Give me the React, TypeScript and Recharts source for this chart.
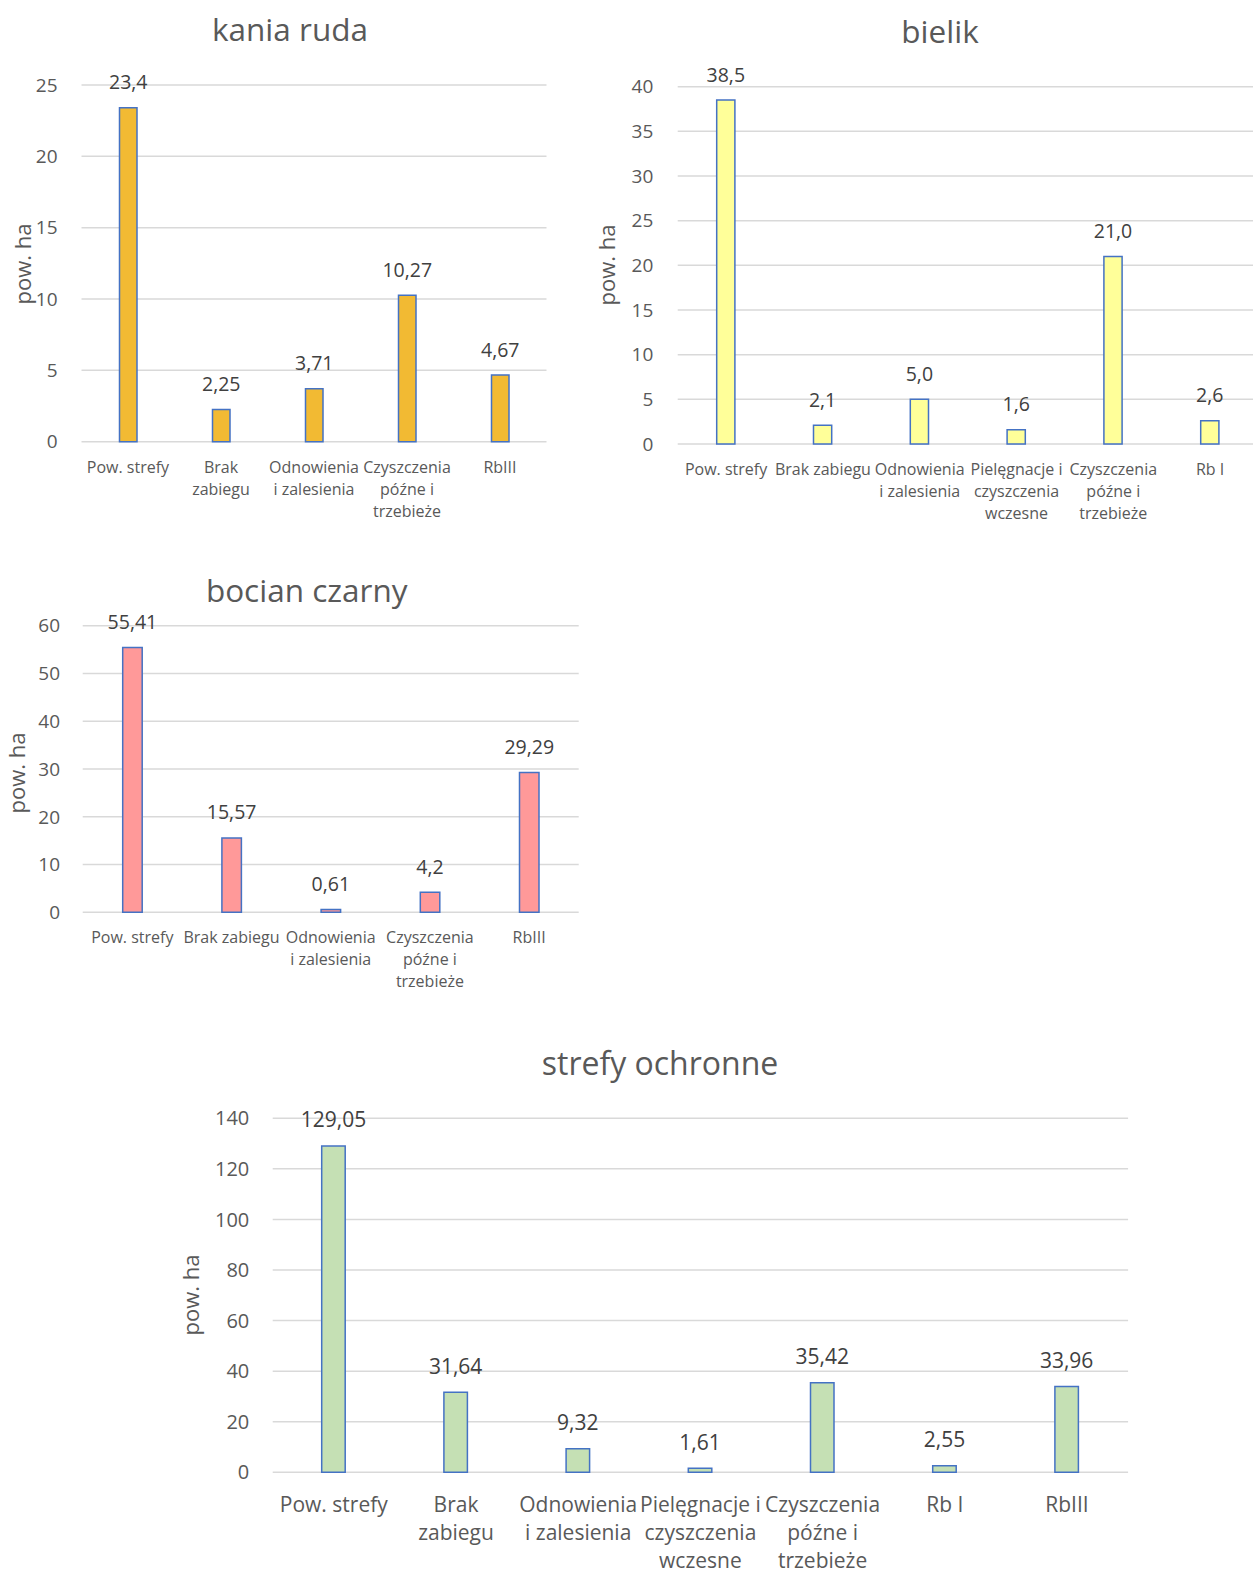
import React from 'react';
import { BarChart, Bar, XAxis, YAxis, CartesianGrid, LabelList } from 'recharts';

// ---- kania ruda ----
const kaniaCategories = ['Pow. strefy', 'Brak\nzabiegu', 'Odnowienia\ni zalesienia', 'Czyszczenia\npóźne i\ntrzebieże', 'RbIII'];
const kaniaValues = [23.4, 2.25, 3.71, 10.27, 4.67];
const kaniaTicks = [0, 5, 10, 15, 20, 25];

// ---- bielik ----
const bielikCategories = ['Pow. strefy', 'Brak zabiegu', 'Odnowienia\ni zalesienia', 'Pielęgnacje i\nczyszczenia\nwczesne', 'Czyszczenia\npóźne i\ntrzebieże', 'Rb I'];
const bielikValues = [38.5, 2.1, 5.0, 1.6, 21.0, 2.6];
const bielikTicks = [0, 5, 10, 15, 20, 25, 30, 35, 40];

// ---- bocian czarny ----
const bocianCategories = ['Pow. strefy', 'Brak zabiegu', 'Odnowienia\ni zalesienia', 'Czyszczenia\npóźne i\ntrzebieże', 'RbIII'];
const bocianValues = [55.41, 15.57, 0.61, 4.2, 29.29];
const bocianTicks = [0, 10, 20, 30, 40, 50, 60];

// ---- strefy ochronne ----
const strefyCategories = ['Pow. strefy', 'Brak\nzabiegu', 'Odnowienia\ni zalesienia', 'Pielęgnacje i\nczyszczenia\nwczesne', 'Czyszczenia\npóźne i\ntrzebieże', 'Rb I', 'RbIII'];
const strefyValues = [129.05, 31.64, 9.32, 1.61, 35.42, 2.55, 33.96];
const strefyTicks = [0, 20, 40, 60, 80, 100, 120, 140];

const AXIS_TEXT = '#595959';
const LABEL_TEXT = '#404040';
const GRID = '#D9D9D9';
const OUTLINE = '#4472C4';

type Spec = {
  title: string;
  categories: string[];
  values: number[];
  ticks: number[];
  decimals: number | null;
  fill: string;
  left: number;
  top: number;
  width: number;
  height: number;
  plotTop: number;
  plotLeft: number;
  plotRight: number;
  xAxisHeight: number;
  tickGap: number;
  barSize: number;
  tickFont: number;
  labelFont: number;
  catFont: number;
  catLine: number;
  catBaseline: number;
  titleFont: number;
  titlePos: [number, number];
  yTitleFont: number;
  yTitlePos: [number, number];
};

const formatValue = (decimals: number | null) => (v: any) => {
  const n = Number(v);
  const s = decimals == null ? String(n) : n.toFixed(decimals);
  return s.replace('.', ',');
};

const CategoryTick = (props: any) => {
  const { x, y, payload, fontSize, lineHeight, baseline } = props;
  const lines = String(payload.value).split('\n');
  return (
    <text x={x} y={y + baseline} textAnchor="middle" fill={AXIS_TEXT} fontSize={fontSize}>
      {lines.map((line: string, i: number) => (
        <tspan key={i} x={x} dy={i === 0 ? 0 : lineHeight}>
          {line}
        </tspan>
      ))}
    </text>
  );
};

const AreaBarChart = ({ spec }: { spec: Spec }) => {
  const data = spec.categories.map((name, i) => ({ name, value: spec.values[i] }));
  const max = spec.ticks[spec.ticks.length - 1];
  return (
    <div style={{ position: 'absolute', left: spec.left, top: spec.top, width: spec.width, height: spec.height }}>
      <BarChart
        width={spec.width}
        height={spec.height}
        data={data}
        margin={{ top: spec.plotTop, left: 0, right: spec.width - spec.plotRight, bottom: 0 }}
      >
        <CartesianGrid vertical={false} stroke={GRID} strokeWidth={1.5} />
        <XAxis
          dataKey="name"
          interval={0}
          height={spec.xAxisHeight}
          tickLine={false}
          axisLine={false}
          tickSize={0}
          tickMargin={0}
          tick={(p: any) => (
            <CategoryTick {...p} fontSize={spec.catFont} lineHeight={spec.catLine} baseline={spec.catBaseline} />
          )}
        />
        <YAxis
          type="number"
          width={spec.plotLeft}
          domain={[0, max]}
          ticks={spec.ticks}
          interval={0}
          tickLine={false}
          axisLine={false}
          tickSize={0}
          tickMargin={spec.tickGap}
          tick={{ fill: AXIS_TEXT, fontSize: spec.tickFont }}
        />
        <Bar
          dataKey="value"
          fill={spec.fill}
          stroke={OUTLINE}
          strokeWidth={1.5}
          barSize={spec.barSize}
          isAnimationActive={false}
        >
          <LabelList
            dataKey="value"
            position="top"
            offset={18.5}
            formatter={formatValue(spec.decimals)}
            fill={LABEL_TEXT}
            fontSize={spec.labelFont}
          />
        </Bar>
      </BarChart>
      <svg
        width={spec.width}
        height={spec.height}
        style={{ position: 'absolute', left: 0, top: 0, pointerEvents: 'none' }}
      >
        <text x={spec.titlePos[0]} y={spec.titlePos[1]} textAnchor="middle" fill={AXIS_TEXT} fontSize={spec.titleFont}>
          {spec.title}
        </text>
        <text
          x={spec.yTitlePos[0]}
          y={spec.yTitlePos[1]}
          textAnchor="middle"
          fill={AXIS_TEXT}
          fontSize={spec.yTitleFont}
          transform={`rotate(-90 ${spec.yTitlePos[0]} ${spec.yTitlePos[1]})`}
        >
          pow. ha
        </text>
      </svg>
    </div>
  );
};

const topCommon = {
  tickFont: 19,
  labelFont: 19.5,
  catFont: 16,
  catLine: 22,
  catBaseline: 31,
  titleFont: 31.5,
  yTitleFont: 22,
};

const specs: Spec[] = [
  {
    ...topCommon,
    title: 'kania ruda',
    categories: kaniaCategories,
    values: kaniaValues,
    ticks: kaniaTicks,
    decimals: null,
    fill: '#F2BA33',
    left: 0,
    top: 0,
    width: 560,
    height: 530,
    plotTop: 85,
    plotLeft: 81.5,
    plotRight: 546.5,
    xAxisHeight: 88.3,
    tickGap: 24,
    barSize: 17.5,
    titlePos: [290, 41],
    yTitlePos: [31, 264],
  },
  {
    ...topCommon,
    title: 'bielik',
    categories: bielikCategories,
    values: bielikValues,
    ticks: bielikTicks,
    decimals: 1,
    fill: '#FFFF99',
    left: 590,
    top: 0,
    width: 680,
    height: 530,
    plotTop: 86.7,
    plotLeft: 87.7,
    plotRight: 668.5,
    xAxisHeight: 86,
    tickGap: 24.4,
    barSize: 18.2,
    titlePos: [350, 42.7],
    yTitlePos: [25, 265],
  },
  {
    ...topCommon,
    title: 'bocian czarny',
    categories: bocianCategories,
    values: bocianValues,
    ticks: bocianTicks,
    decimals: null,
    fill: '#FF9999',
    left: 0,
    top: 560,
    width: 600,
    height: 440,
    plotTop: 65.7,
    plotLeft: 82.7,
    plotRight: 578.7,
    xAxisHeight: 87.7,
    tickGap: 22.7,
    barSize: 19.5,
    titlePos: [306.7, 41.7],
    yTitlePos: [25, 213],
  },
  {
    title: 'strefy ochronne',
    categories: strefyCategories,
    values: strefyValues,
    ticks: strefyTicks,
    decimals: 2,
    fill: '#C5E0B4',
    left: 170,
    top: 1040,
    width: 983,
    height: 531,
    plotTop: 78.3,
    plotLeft: 102.7,
    plotRight: 958.1,
    xAxisHeight: 98.7,
    tickGap: 23.4,
    barSize: 23.5,
    tickFont: 20,
    labelFont: 21,
    catFont: 21,
    catLine: 28.3,
    catBaseline: 39.4,
    titleFont: 32,
    titlePos: [490, 35],
    yTitleFont: 22,
    yTitlePos: [29, 255],
  },
];

export default function App() {
  return (
    <div
      style={{
        position: 'absolute',
        left: 0,
        top: 0,
        width: 1253,
        height: 1571,
        overflow: 'hidden',
        background: '#FFFFFF',
        fontFamily: "'Open Sans', sans-serif",
      }}
    >
      {specs.map((s) => (
        <AreaBarChart key={s.title} spec={s} />
      ))}
    </div>
  );
}
